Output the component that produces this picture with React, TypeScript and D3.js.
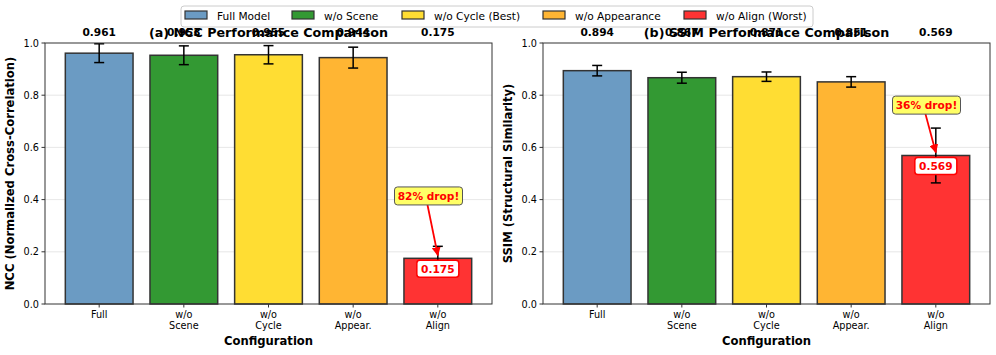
import * as d3 from "d3";

const categories = ["Full", "w/o\nScene", "w/o\nCycle", "w/o\nAppear.", "w/o\nAlign"];
const legendLabels = ["Full Model", "w/o Scene", "w/o Cycle (Best)", "w/o Appearance", "w/o Align (Worst)"];
const barColors = ["#6b9bc3", "#339933", "#ffdd33", "#ffb533", "#ff3333"];

const nccValues = [0.961, 0.953, 0.955, 0.944, 0.175];
const nccErrors = [0.036, 0.036, 0.035, 0.04, 0.046];
const ssimValues = [0.894, 0.867, 0.871, 0.851, 0.569];
const ssimErrors = [0.02, 0.021, 0.018, 0.02, 0.105];
const yTicks = [0, 0.2, 0.4, 0.6, 0.8, 1.0];

const font = "DejaVu Sans, Liberation Sans, sans-serif";

type PanelProps = {
  left: number;
  title: string;
  ylabel: string;
  values: number[];
  errors: number[];
  drop: string;
  dropY: number;
};

const Panel = ({ left, title, ylabel, values, errors, drop, dropY }: PanelProps) => {
  const top = 43, bottom = 304, width = 447;
  const x = d3.scaleLinear().domain([-0.64, 4.64]).range([left, left + width]);
  const y = d3.scaleLinear().domain([0, 1]).range([bottom, top]);
  const bw = x(0.8) - x(0);
  const last = values.length - 1;
  const tipX = x(last), tipY = y(values[last]) - 3;
  const boxX = x(3.89), boxY = y(dropY);
  return (
    <g fontFamily={font}>
      {yTicks.slice(1, -1).map((t) => (
        <line key={t} x1={left} x2={left + width} y1={y(t)} y2={y(t)} stroke="#b0b0b0" strokeOpacity={0.3} />
      ))}
      {values.map((v, i) => (
        <g key={i}>
          <rect x={x(i) - bw / 2} y={y(v)} width={bw} height={y(0) - y(v)} fill={barColors[i]} stroke="#333" strokeWidth={1.5} />
          <line x1={x(i)} x2={x(i)} y1={y(v + errors[i])} y2={y(v - errors[i])} stroke="#000" strokeWidth={1.5} />
          <line x1={x(i) - 5} x2={x(i) + 5} y1={y(v + errors[i])} y2={y(v + errors[i])} stroke="#000" strokeWidth={1.5} />
          <line x1={x(i) - 5} x2={x(i) + 5} y1={y(v - errors[i])} y2={y(v - errors[i])} stroke="#000" strokeWidth={1.5} />
          <text x={x(i)} y={36} textAnchor="middle" fontSize={10.6} fontWeight="bold">{v.toFixed(3)}</text>
        </g>
      ))}
      <text x={left + width / 2} y={37} textAnchor="middle" fontSize={12.7} fontWeight="bold">{title}</text>
      <rect x={left} y={top} width={width} height={bottom - top} fill="none" stroke="#333" strokeWidth={1} />
      {yTicks.map((t) => (
        <g key={t}>
          <line x1={left - 3.5} x2={left} y1={y(t)} y2={y(t)} stroke="#333" />
          <text x={left - 6} y={y(t) + 3.5} textAnchor="end" fontSize={9.7}>{t.toFixed(1)}</text>
        </g>
      ))}
      {categories.map((c, i) => (
        <g key={c}>
          <line x1={x(i)} x2={x(i)} y1={bottom} y2={bottom + 3.5} stroke="#333" />
          {c.split("\n").map((s, k) => (
            <text key={k} x={x(i)} y={bottom + 14 + k * 11} textAnchor="middle" fontSize={9.7}>{s}</text>
          ))}
        </g>
      ))}
      <text x={left + width / 2} y={345} textAnchor="middle" fontSize={11.6} fontWeight="bold">Configuration</text>
      <text transform={`translate(${left - 31},${(top + bottom) / 2}) rotate(-90)`} textAnchor="middle" fontSize={11.6} fontWeight="bold">{ylabel}</text>
      <defs>
        <marker id={`arr${left}`} viewBox="0 0 10 10" refX={9} refY={5} markerWidth={5} markerHeight={5} orient="auto">
          <path d="M0,0 L10,5 L0,10 z" fill="red" />
        </marker>
      </defs>
      <line x1={boxX - 1} x2={tipX} y1={boxY + 9} y2={tipY} stroke="red" strokeWidth={1.8} markerEnd={`url(#arr${left})`} />
      <rect x={boxX - 34} y={boxY - 9} width={68} height={18} rx={3} fill="#ffff66" stroke="#555" strokeWidth={1} />
      <text x={boxX} y={boxY + 4} textAnchor="middle" fontSize={10.6} fontWeight="bold" fill="red">{drop}</text>
      <rect x={tipX - 21} y={y(values[last]) + 2} width={42} height={17} rx={3} fill="#fff" stroke="red" strokeWidth={1.5} />
      <text x={tipX} y={y(values[last]) + 14.5} textAnchor="middle" fontSize={10.6} fontWeight="bold" fill="red">{values[last].toFixed(3)}</text>
    </g>
  );
};

const legendX = [185, 292, 402, 543, 684];

const App = () => (
  <svg width={996} height={355} style={{ position: "absolute", left: 0, top: 0 }}>
    <rect width={996} height={355} fill="#fff" />
    <Panel left={45} title="(a) NCC Performance Comparison" ylabel="NCC (Normalized Cross-Correlation)" values={nccValues} errors={nccErrors} drop="82% drop!" dropY={0.414} />
    <Panel left={543} title="(b) SSIM Performance Comparison" ylabel="SSIM (Structural Similarity)" values={ssimValues} errors={ssimErrors} drop="36% drop!" dropY={0.762} />
    <g fontFamily={font}>
      <rect x={181} y={6} width={632} height={21} rx={3} fill="#fff" fillOpacity={0.85} stroke="#ccc" />
      {legendLabels.map((l, i) => (
        <g key={l}>
          <rect x={legendX[i]} y={11} width={22} height={8} fill={barColors[i]} stroke="#333" strokeWidth={1.2} />
          <text x={legendX[i] + 32} y={20} fontSize={10.6}>{l}</text>
        </g>
      ))}
    </g>
  </svg>
);

export default App;
